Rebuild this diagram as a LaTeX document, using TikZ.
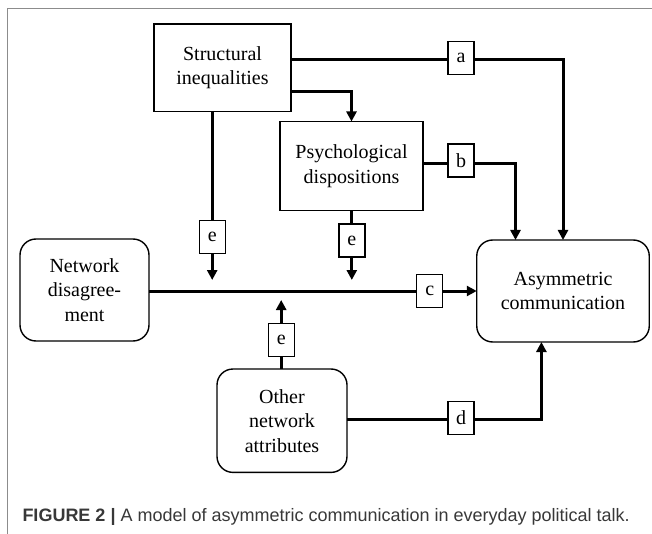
\documentclass[tikz,border=0pt]{standalone}
\usepackage{fontspec}
\setmainfont{Liberation Serif}
\newfontfamily\capfont{Liberation Sans}
\usetikzlibrary{arrows.meta,calc}
\begin{document}
\begin{tikzpicture}[x=1pt,y=-1pt,
  every node/.style={inner sep=0pt,outer sep=0pt},
  sqbox/.style={draw,line width=1.4pt,align=center,font=\fontsize{20}{24.5}\selectfont},
  rbox/.style={sqbox,rounded corners=16pt},
  lbl/.style={draw,line width=1.4pt,minimum width=26pt,minimum height=33pt,font=\fontsize{20}{24}\selectfont,fill=white},
  conn/.style={line width=3pt},
  arr/.style={conn,-{Triangle[length=10pt,width=10pt]}},
  framecol/.style={draw=black!45,line width=1.4pt}
]
\useasboundingbox (0,0) rectangle (652,534);
\draw[framecol] (7.5,534) -- (7.5,8.5) -- (652,8.5);

% main nodes
\node[sqbox,minimum width=137pt,minimum height=87.5pt] (SI) at (222.5,67.75) {Structural\\inequalities};
\node[sqbox,minimum width=143pt,minimum height=89pt] (PD) at (351.5,166) {Psychological\\dispositions};
\node[rbox,minimum width=129pt,minimum height=102pt] (ND) at (84.5,290) {Network\\disagree-\\ment};
\node[rbox,minimum width=172.5pt,minimum height=102pt] (AC) at (563,291) {Asymmetric\\communication};
\node[rbox,minimum width=130pt,minimum height=103.4pt] (ON) at (282,420.7) {Other\\network\\attributes};

% label boxes
\node[lbl] (la) at (461,58) {a};
\node[lbl] (lb) at (461,160.5) {b};
\node[lbl] (lc) at (429.7,291) {c};
\node[lbl] (ld) at (461,417.8) {d};
\node[lbl] (e1) at (212.2,237) {e};
\node[lbl] (e2) at (351.8,240.5) {e};
\node[lbl] (e3) at (281.2,339.7) {e};

\coordinate (t1) at (212.2,280);
\coordinate (t2) at (351.8,280);
\coordinate (t3) at (281.2,300);

% connectors
\draw[conn] ([yshift=-2pt]la.west -| SI.east) -- ([yshift=-2pt]la.west);
\draw[arr] ([yshift=-2pt]la.east) -| (AC.north);
\draw[arr] ([yshift=-24.25pt]SI.east) -| (PD.north);
\draw[conn] ([yshift=-3.5pt]lb.west -| PD.east) -- ([yshift=-3.5pt]lb.west);
\draw[arr] ([yshift=-3.5pt]lb.east) -| ([xshift=-47.5pt]AC.north);
\draw[conn] (SI.south -| e1.north) -- (e1.north);
\draw[arr] (e1.south) -- (t1);
\draw[conn] (PD.south -| e2.north) -- (e2.north);
\draw[arr] (e2.south) -- (t2);
\draw[conn] (ND.east |- lc.west) -- (lc.west);
\draw[arr] (lc.east) -- (lc.east -| AC.west);
\draw[conn] (ON.north -| e3.south) -- (e3.south);
\draw[arr] (e3.north) -- (t3);
\draw[conn] ([yshift=-1.7pt]ld.west -| ON.east) -- ([yshift=-1.7pt]ld.west);
\draw[arr] ([yshift=-1.7pt]ld.east) -| ([xshift=-21.6pt]AC.south);

% caption
\node[anchor=base west,font=\capfont\fontsize{18}{20}\selectfont,text=black!78] (cap) at (22.5,521.5)
  {\textbf{FIGURE 2 |} A model of asymmetric communication in everyday political talk.};
\end{tikzpicture}
\end{document}
